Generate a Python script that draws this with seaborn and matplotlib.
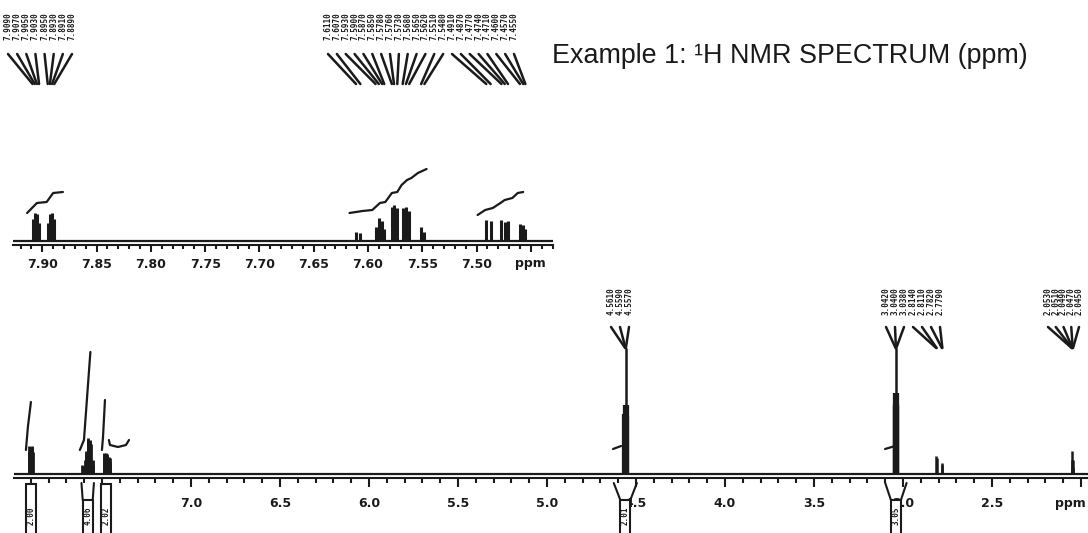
import numpy as np
import pandas as pd
import seaborn as sns
import matplotlib.pyplot as plt
import matplotlib.transforms as mtransforms
from matplotlib.ticker import FixedLocator, FixedFormatter, MultipleLocator
from matplotlib.patches import Rectangle

sns.set_theme(style="white")
plt.rcParams['font.family'] = ['DejaVu Sans']
plt.rcParams['axes.linewidth'] = 1.5

# ---- data ----
# aromatic multiplets (ppm, intensity)
aro1_ppm = [7.909, 7.907, 7.905, 7.903, 7.895, 7.893, 7.891, 7.889]
aro1_int = [22, 28, 27, 18, 18, 27, 28, 22]
aro2_ppm = [7.611, 7.607, 7.593, 7.590, 7.587, 7.585, 7.578, 7.576, 7.573,
            7.568, 7.565, 7.562, 7.551, 7.548]
aro2_int = [9, 8, 14, 23, 20, 12, 34, 36, 33, 33, 34, 30, 14, 9]
aro3_ppm = [7.491, 7.487, 7.477, 7.474, 7.471, 7.460, 7.457, 7.455]
aro3_int = [21, 20, 21, 19, 20, 17, 16, 12]

# aliphatic peaks
s1_ppm = [4.561, 4.559, 4.557]
s1_int = [60, 69, 58]
s2_ppm = [3.042, 3.040, 3.038, 2.814, 2.811, 2.782, 2.779]
s2_int = [70, 81, 68, 18, 16, 11, 9]
s3_ppm = [2.053, 2.051, 2.049, 2.047, 2.045]
s3_int = [7, 14, 23, 14, 7]

# integral traces, main spectrum
mi_ppm = [[7.927, 7.916, 7.899], [7.624, 7.601, 7.565], [7.500, 7.494, 7.483],
          [7.461, 7.455, 7.410, 7.365, 7.348], [4.629, 4.584], [3.101, 3.045]]
mi_int = [[24, 47, 72], [24, 34, 122], [24, 37, 74],
          [34, 29, 27, 29, 34], [25, 28], [25, 28]]

# integral traces, expansion
ii_ppm = [[7.914, 7.905, 7.896, 7.890, 7.881],
          [7.617, 7.605, 7.596, 7.589, 7.584, 7.578, 7.573, 7.569, 7.564, 7.560, 7.554, 7.546],
          [7.499, 7.492, 7.485, 7.478, 7.474, 7.467, 7.462, 7.457]]
ii_int = [[28, 38, 39, 48, 49],
          [28, 30, 31, 38, 39, 48, 49, 56, 61, 63, 68, 72],
          [26, 31, 33, 38, 41, 43, 48, 49]]

# integral regions and values (boxes below the axis)
reg_lo = [7.912, 7.615, 7.497, 4.625, 3.100]
reg_hi = [7.886, 7.545, 7.452, 4.495, 2.980]
reg_val = ["2.00", "4.06", "2.02", "2.01", "3.05"]

main_ticks = [7.5, 7.0, 6.5, 6.0, 5.5, 5.0, 4.5, 4.0, 3.5, 3.0, 2.5, 2.0]
main_labels = ["", "7.0", "6.5", "6.0", "5.5", "5.0", "4.5", "4.0", "3.5", "3.0", "2.5", "ppm"]
ins_ticks = [7.90, 7.85, 7.80, 7.75, 7.70, 7.65, 7.60, 7.55, 7.50, 7.45]
ins_labels = ["7.90", "7.85", "7.80", "7.75", "7.70", "7.65", "7.60", "7.55", "7.50", "ppm"]

W, H = 1088, 533
fig = plt.figure(figsize=(W / 100, H / 100), dpi=100)

# ---- main spectrum ----
m_l, m_r, m_b, m_t = 14, 1088, 478, 338
m_x0, m_x1 = 7.994, 1.961
ax = fig.add_axes([m_l / W, 1 - m_b / H, (m_r - m_l) / W, (m_b - m_t) / H])
ax.set_xlim(m_x0, m_x1)
ax.set_ylim(-4, m_b - m_t - 4)
m_base = m_b - 4

ax.axhline(0, color='k', lw=1.6)
ax.vlines(aro1_ppm + aro2_ppm + aro3_ppm, 0, aro1_int + aro2_int + aro3_int, color='k', lw=2.0)
ax.vlines(s1_ppm + s2_ppm[:3], 0, s1_int + s2_int[:3], color='k', lw=4.5)
ax.vlines(s2_ppm[3:] + s3_ppm, 0, s2_int[3:] + s3_int, color='k', lw=1.8)
for px, iy in zip(mi_ppm, mi_int):
    sns.lineplot(x=px, y=iy, sort=False, estimator=None, color='k', lw=1.6, ax=ax)

fork_bot_main = 348
for grp_p, grp_i in [(s1_ppm, s1_int), (s2_ppm[:3], s2_int[:3])]:
    top = max(grp_i)
    ax.vlines(grp_p[int(np.argmax(grp_i))], top, m_base - fork_bot_main, color='k', lw=1.8)

for s in ['top', 'left', 'right']:
    ax.spines[s].set_visible(False)
ax.spines['bottom'].set_color('k')
ax.set_yticks([])
ax.xaxis.set_major_locator(FixedLocator(main_ticks))
ax.xaxis.set_major_formatter(FixedFormatter(main_labels))
ax.xaxis.set_minor_locator(MultipleLocator(0.1))
ax.tick_params(axis='x', which='major', direction='out', length=6.5, width=1.5,
               pad=7, labelsize=9, colors='k', bottom=True)
ax.tick_params(axis='x', which='minor', direction='out', length=3.6, width=1.5, bottom=True, colors='k')
plt.setp(ax.get_xticklabels(), fontweight='bold')
# the last label ("ppm") sits a little left of its tick so it stays on the page
ppm_lab = ax.get_xticklabels()[-1]
ppm_lab.set_transform(ppm_lab.get_transform() +
                      mtransforms.ScaledTranslation(-11 / 100, 0, fig.dpi_scale_trans))

# ---- expansion of aromatic region ----
i_l, i_r, i_b, i_t = 13, 552.5, 245, 160
i_x0, i_x1 = 7.927, 7.430
axi = fig.add_axes([i_l / W, 1 - i_b / H, (i_r - i_l) / W, (i_b - i_t) / H])
axi.set_xlim(i_x0, i_x1)
axi.set_ylim(-4, i_b - i_t - 4)
axi.patch.set_alpha(0)
axi.axhline(0, color='k', lw=1.6)
axi.vlines(aro1_ppm + aro2_ppm + aro3_ppm, 0, aro1_int + aro2_int + aro3_int, color='k', lw=2.2)
for px, iy in zip(ii_ppm, ii_int):
    sns.lineplot(x=px, y=iy, sort=False, estimator=None, color='k', lw=1.6, ax=axi)
for s in ['top', 'left', 'right']:
    axi.spines[s].set_visible(False)
axi.spines['bottom'].set_color('k')
axi.set_yticks([])
axi.xaxis.set_major_locator(FixedLocator(ins_ticks))
axi.xaxis.set_major_formatter(FixedFormatter(ins_labels))
axi.xaxis.set_minor_locator(MultipleLocator(0.01))
axi.tick_params(axis='x', which='major', direction='out', length=5, width=1.5,
                pad=4, labelsize=9, colors='k', bottom=True)
axi.tick_params(axis='x', which='minor', direction='out', length=2.9, width=1.5, bottom=True, colors='k')
plt.setp(axi.get_xticklabels(), fontweight='bold')


def main_px(p):
    return m_l + (m_x0 - p) / (m_x0 - m_x1) * (m_r - m_l)


def ins_px(p):
    return i_l + (i_x0 - p) / (i_x0 - i_x1) * (i_r - i_l)


# ---- overlay in pixel space: peak labels, forks, integral boxes ----
ov = fig.add_axes([0, 0, 1, 1], zorder=5)
ov.set_xlim(0, W)
ov.set_ylim(H, 0)
ov.axis('off')
ov.patch.set_alpha(0)

blocks = [
    (aro1_ppm, ins_px, 8, 72, 12, 54, 84),
    (aro2_ppm + aro3_ppm, ins_px, 328, 514, 12, 54, 84),
    (s1_ppm, main_px, 611, 629, 287, 327, fork_bot_main),
    (s2_ppm, main_px, 886, 940, 287, 327, fork_bot_main),
    (s3_ppm, main_px, 1048, 1079, 287, 327, fork_bot_main),
]
for ppm_list, to_px, xl, xr, ytxt, yf0, yf1 in blocks:
    cols = np.linspace(xl, xr, len(ppm_list))
    for cx, p in zip(cols, ppm_list):
        ov.text(cx, ytxt, f"{p:.4f}", rotation=90, ha='center', va='top',
                fontsize=5.5, fontweight='bold', family='DejaVu Sans Mono', color='k')
        ov.plot([cx, to_px(p)], [yf0, yf1], color='k', lw=1.8, solid_capstyle='round')

for lo, hi, val in zip(reg_lo, reg_hi, reg_val):
    a, b = main_px(lo), main_px(hi)
    c = (a + b) / 2
    if b - a > 11:
        ov.plot([a, c - 5], [483, 500], color='k', lw=1.5)
        ov.plot([b, c + 5], [483, 500], color='k', lw=1.5)
        y0 = 500
    else:
        y0 = 484
    ov.add_patch(Rectangle((c - 5, y0), 10, 60, facecolor='white', edgecolor='k', lw=1.5))
    ov.text(c, 516, val, rotation=90, ha='center', va='center', fontsize=5.5,
            fontweight='bold', family='DejaVu Sans Mono', color='k')

fig.text(552 / W, 1 - 63 / H, "Example 1: \u00b9H NMR SPECTRUM (ppm)",
         family=['Liberation Sans', 'DejaVu Sans'], fontsize=19.4, ha='left', va='baseline', color='k')

fig.savefig('out.png', dpi=100)
